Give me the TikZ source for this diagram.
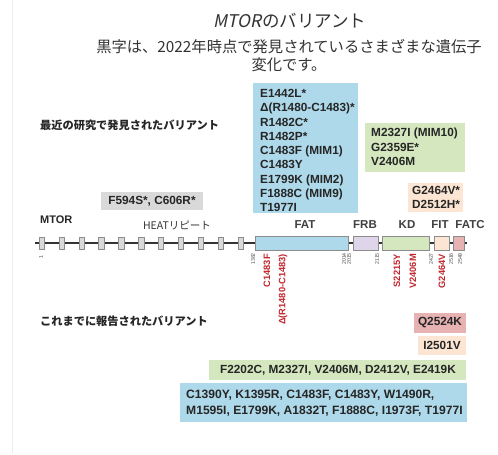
\documentclass[tikz,border=0pt]{standalone}
\usepackage{fontspec}
\setmainfont{Liberation Sans}
\newfontfamily\jp{Noto Sans CJK JP}
\newfontfamily\jpit[FakeSlant=0.2]{Noto Sans CJK JP}
\definecolor{bluef}{HTML}{AED9EA}
\definecolor{greenf}{HTML}{D4E7BE}
\definecolor{orangef}{HTML}{FCE6D3}
\definecolor{pinkf}{HTML}{E7B2B2}
\definecolor{grayf}{HTML}{D9D9D9}
\definecolor{lavf}{HTML}{DED5EA}
\definecolor{redt}{HTML}{C1272D}
\definecolor{txt}{HTML}{262626}
\definecolor{edge}{HTML}{8C8C8C}
\tikzset{
  vtxt/.style={font=\bfseries\fontsize{11.8}{14.3}\selectfont, align=left, inner sep=0pt, text=txt},
  jph/.style={font=\jp\bfseries\fontsize{11.2}{13}\selectfont, inner sep=0pt, text=txt, anchor=west},
  domlab/.style={font=\bfseries\fontsize{11.5}{13}\selectfont, inner sep=0pt, text=black!75},
  dombox/.style={draw=edge, line width=0.7pt, minimum height=14pt, inner sep=0pt, anchor=west},
  rep/.style={draw=edge, fill=grayf, line width=0.6pt, minimum width=5.3pt, minimum height=12pt, inner sep=0pt},
  redlab/.style={font=\bfseries\fontsize{9.3}{10}\selectfont, text=redt, rotate=90, anchor=east, inner sep=0pt},
  posn/.style={font=\fontsize{5.2}{6}\selectfont, text=black!70, rotate=90, anchor=east, inner sep=0pt},
}
\begin{document}
\begin{tikzpicture}[x=1pt,y=-1pt]
\useasboundingbox (0,0) rectangle (498,455);
\fill[white] (0,0) rectangle (498,455);
\draw[black!7, line width=0.8pt] (12,0) -- (12,453);

% title
\node[inner sep=0pt, text=black!80, font=\fontsize{17.5}{20}\selectfont] (title) at (290,21) {{\jpit MTOR}{\jp のバリアント}};
\node[inner sep=0pt, text=black!80, align=center, font=\jp\fontsize{15.3}{18}\selectfont] (sub) at (289,56) {黒字は、2022年時点で発見されているさまざまな遺伝子\\変化です。};

% recent variants
\node[jph] (recent) at (40,125) {最近の研究で発見されたバリアント};
\fill[bluef] (253,83) rectangle (358,213);
\node[vtxt, anchor=north west] (rfat) at (260,89) {E1442L*\\Δ(R1480-C1483)*\\R1482C*\\R1482P*\\C1483F (MIM1)\\C1483Y\\E1799K (MIM2)\\F1888C (MIM9)\\T1977I};
\fill[greenf] (365,123) rectangle (465,172);
\node[vtxt, anchor=north west] (rkd) at (371,128) {M2327I (MIM10)\\G2359E*\\V2406M};
\fill[orangef] (408,183) rectangle (463,212);
\node[vtxt, anchor=north west] (rfit) at (412,186) {G2464V*\\D2512H*};
\fill[grayf] (101,192) rectangle (203,210);
\node[vtxt] (rheat) at (152,201) {F594S*, C606R*};

% gene diagram
\node[font=\bfseries\fontsize{11}{13}\selectfont, text=txt, inner sep=0pt, anchor=west] (mtor) at (40,220) {MTOR};
\node[font=\jp\fontsize{10.5}{12}\selectfont, text=black!80, inner sep=0pt] (heat) at (177,225) {HEATリピート};
\coordinate (ls) at (35,243);
\coordinate (le) at (467,243);
\draw[black!80, line width=1.4pt] (ls) -- (le);
\foreach \i in {0,...,10} {
  \node[rep] (h\i) at ({41.7+19.9*\i},243) {};
}
\node[dombox, fill=bluef, minimum width=93pt] (fat) at (255,243) {};
\node[dombox, fill=lavf, minimum width=25pt] (frb) at (353,243) {};
\node[dombox, fill=greenf, minimum width=47pt] (kd) at (382,243) {};
\node[dombox, fill=orangef, minimum width=15pt] (fit) at (434,243) {};
\node[dombox, fill=pinkf, minimum width=11pt] (fatc) at (453,243) {};
\node[domlab] (lfat) at (305,225) {FAT};
\node[domlab] (lfrb) at (365,225) {FRB};
\node[domlab] (lkd) at (407,225) {KD};
\node[domlab] (lfit) at (440,225) {FIT};
\node[domlab] (lfatc) at (470,225) {FATC};

\node[posn] (p1) at (41,255) {1};
\node[posn] (p1382) at (253,253) {1382};
\node[posn] (p2014) at (344,253) {2014};
\node[posn] (p2015) at (349,253) {2015};
\node[posn] (p2115) at (377,253) {2115};
\node[posn] (p2427) at (431,253) {2427};
\node[posn] (p2516) at (451,253) {2516};
\node[posn] (p2549) at (460,253) {2549};

\node[redlab] (m1) at (267,254) {C1483F};
\node[redlab] (m2) at (283,254) {Δ(R1480-C1483)};
\node[redlab] (m3) at (397,254) {S2215Y};
\node[redlab] (m4) at (413,254) {V2406M};
\node[redlab] (m5) at (442,254) {G2464V};

% previously reported
\node[jph] (prev) at (40,321) {これまでに報告されたバリアント};
\fill[pinkf] (414,313) rectangle (466,333);
\node[vtxt] (pfatc) at (440,323) {Q2524K};
\fill[orangef] (418,336) rectangle (466,355);
\node[vtxt] (pfit) at (442,345.5) {I2501V};
\fill[greenf] (209,360) rectangle (466,380);
\node[vtxt] (pkd) at (338,370) {F2202C, M2327I, V2406M, D2412V, E2419K};
\fill[bluef] (180,383) rectangle (467,422);
\node[vtxt, anchor=west, font=\bfseries\fontsize{12.1}{15.5}\selectfont] (pfat) at (186,403) {C1390Y, K1395R, C1483F, C1483Y, W1490R,\\M1595I, E1799K, A1832T, F1888C, I1973F, T1977I};
\end{tikzpicture}
\end{document}
